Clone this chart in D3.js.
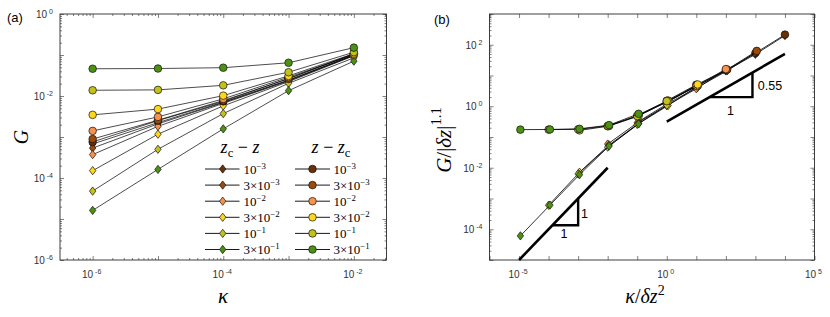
<!DOCTYPE html>
<html><head><meta charset="utf-8">
<script src="https://cdn.jsdelivr.net/npm/d3@7"></script>
<style>body{margin:0;background:#fff}svg{display:block}</style>
</head><body>
<svg id="c" width="830" height="317"></svg>
<script>
// ---------------- data ----------------
const kappa = [1e-6, 1e-5, 1e-4, 1e-3, 1e-2];
const deltaZ = [1e-3, 3e-3, 1e-2, 3e-2, 1e-1, 3e-1];
const deltaZMant = ["", "3×", "", "3×", "", "3×"];
const deltaZExp = ["−3", "−3", "−2", "−2", "−1", "−1"];
const seriesColors = ["#6a3006", "#9a4a0c", "#f7924a", "#ffd61a", "#c2c21a", "#4b9212"];
// G for z - zc (circles), one row per deltaZ, columns follow kappa
const gAbove = [
  [7.59e-4, 2.51e-3, 7.41e-3, 2.69e-2, 0.107],
  [8.91e-4, 2.57e-3, 7.76e-3, 2.63e-2, 0.106],
  [1.41e-3, 3.09e-3, 8.51e-3, 2.88e-2, 0.102],
  [3.47e-3, 4.79e-3, 1.02e-2, 3.09e-2, 0.108],
  [1.38e-2, 1.41e-2, 1.82e-2, 3.80e-2, 0.117],
  [4.62e-2, 4.68e-2, 4.90e-2, 6.46e-2, 0.151]
];
// G for zc - z (diamonds)
const gBelow = [
  [6.76e-4, 2.24e-3, 7.08e-3, 2.45e-2, 0.100],
  [5.37e-4, 2.09e-3, 6.92e-3, 2.40e-2, 0.099],
  [3.72e-4, 1.82e-3, 6.61e-3, 2.34e-2, 0.0977],
  [1.51e-4, 1.17e-3, 5.75e-3, 2.24e-2, 0.0955],
  [4.79e-5, 5.01e-4, 3.72e-3, 2.04e-2, 0.0851],
  [1.62e-5, 1.62e-4, 1.58e-3, 1.35e-2, 0.0708]
];
// scaling exponents of panel (b)
const xScalingExp = 2;     // kappa / dz^2
const yScalingExp = 1.1;   // G / |dz|^1.1
// guide lines in panel (b)
const guideSlope1 = [[1e-5, 1e-5], [1e-2, 1e-2]];
const triSlope1 = [[1.35e-4, 1.35e-4], [1e-3, 1.35e-4], [1e-3, 1e-3]];
const guideSlope055 = [[1, 0.316], [1e4, 50.1]];
const triSlope055 = [[28.2, 1.984], [794, 1.984], [794, 12.45]];

// tick labels (exponents of 10)
const leftXLabels = [-6, -4, -2];
const leftYLabels = [-6, -4, -2, 0];
const rightXLabels = [-5, 0, 5];
const rightYLabels = [-4, -2, 0, 2];

// ---------------- drawing ----------------
const svg = d3.select("#c");
const SANS = "'Liberation Sans', Arial, Helvetica, sans-serif";
const SERIF = "'Liberation Serif', 'DejaVu Serif', 'Times New Roman', serif";
const AX = "#2b2b2b";

function mathText(parent, x, y, parts, opts = {}) {
  const fs = opts.size || 14;
  const t = parent.append("text").attr("x", x).attr("y", y)
    .attr("font-family", opts.family || SERIF).attr("font-size", fs)
    .attr("fill", opts.fill || "#000")
    .attr("text-anchor", opts.anchor || "start");
  if (opts.transform) t.attr("transform", opts.transform);
  let shift = 0;
  parts.forEach(p => {
    const s = t.append("tspan").text(p.t);
    let target = 0, size = fs;
    if (p.sup) { target = -fs * (opts.supRaise || 0.42); size = fs * (opts.supScale || 0.7); }
    if (p.sub) { target = fs * 0.22; size = fs * 0.7; }
    s.attr("dy", target - shift).attr("font-size", size);
    shift = target;
    if (p.it) s.attr("font-style", "italic");
  });
  return t;
}

function minorTicks(domain) {
  const out = [];
  const lo = Math.floor(Math.log10(domain[0])), hi = Math.ceil(Math.log10(domain[1]));
  for (let k = lo; k <= hi; k++) for (let m = 2; m <= 9; m++) {
    const v = m * Math.pow(10, k);
    if (v > domain[0] && v < domain[1]) out.push(v);
  }
  return out;
}
function majorTicks(domain) {
  const out = [];
  for (let k = Math.ceil(Math.log10(domain[0]) - 1e-9); k <= Math.floor(Math.log10(domain[1]) + 1e-9); k++) out.push(Math.pow(10, k));
  return out;
}

function frame(x, y, opts) {
  const [x0, x1] = x.range(), [y0, y1] = y.range();
  const g = svg.append("g");
  const xd = x.domain(), yd = y.domain();
  const addAxis = (axis, tr) => {
    const a = g.append("g").attr("transform", tr).call(axis);
    a.select(".domain").remove();
    a.selectAll("line").attr("stroke", AX).attr("stroke-width", 0.6);
  };
  const xm = majorTicks(xd), ym = majorTicks(yd);
  addAxis(d3.axisBottom(x).tickValues(xm).tickSize(-4).tickFormat(""), `translate(0,${y0})`);
  addAxis(d3.axisTop(x).tickValues(xm).tickSize(-4).tickFormat(""), `translate(0,${y1})`);
  addAxis(d3.axisLeft(y).tickValues(ym).tickSize(-4).tickFormat(""), `translate(${x0},0)`);
  addAxis(d3.axisRight(y).tickValues(ym).tickSize(-4).tickFormat(""), `translate(${x1},0)`);
  if (opts.xMinor) {
    const xn = minorTicks(xd);
    addAxis(d3.axisBottom(x).tickValues(xn).tickSize(-2).tickFormat(""), `translate(0,${y0})`);
    addAxis(d3.axisTop(x).tickValues(xn).tickSize(-2).tickFormat(""), `translate(0,${y1})`);
  }
  const yn = minorTicks(yd);
  addAxis(d3.axisLeft(y).tickValues(yn).tickSize(-2).tickFormat(""), `translate(${x0},0)`);
  addAxis(d3.axisRight(y).tickValues(yn).tickSize(-2).tickFormat(""), `translate(${x1},0)`);
  g.append("rect").attr("x", x0).attr("y", y1).attr("width", x1 - x0).attr("height", y0 - y1)
    .attr("fill", "none").attr("stroke", AX).attr("stroke-width", 0.9);
  opts.xLabels.forEach(e => {
    mathText(g, x(Math.pow(10, e)) - 1, y0 + 18, [{t: "10"}, {t: " " + e, sup: true}],
      {family: SANS, size: 10, anchor: "middle", fill: "#333"});
  });
  opts.yLabels.forEach(e => {
    mathText(g, x0 - 7, y(Math.pow(10, e)) + 4, [{t: "10"}, {t: " " + e, sup: true}],
      {family: SANS, size: 10, anchor: "end", fill: "#333"});
  });
}

const diamond = (r) => `M0,${-r * 1.3}L${r},0L0,${r * 1.3}L${-r},0Z`;

function marker(g, p, color, shape) {
  if (shape === "circle") {
    g.append("circle").attr("cx", p[0]).attr("cy", p[1]).attr("r", 3.8)
      .attr("fill", color).attr("stroke", "#111").attr("stroke-width", 0.7);
  } else if (shape === "diamond") {
    g.append("path").attr("d", diamond(3.2)).attr("transform", `translate(${p[0]},${p[1]})`)
      .attr("fill", color).attr("stroke", "#111").attr("stroke-width", 0.7);
  }
}
function drawSeries(g, pts, color, shape, lw) {
  const line = d3.line().x(d => d[0]).y(d => d[1]);
  g.append("path").attr("d", line(pts)).attr("fill", "none").attr("stroke", "#000").attr("stroke-width", lw);
  pts.forEach(p => marker(g, p, color, shape));
}

// ---------- panel (a) ----------
const xL = d3.scaleLog().domain([Math.pow(10, -6.5), Math.pow(10, -1.5)]).range([60, 386.5]);
const yL = d3.scaleLog().domain([1e-6, 1]).range([260, 14]);
frame(xL, yL, {xMinor: true, xLabels: leftXLabels, yLabels: leftYLabels});
const gA = svg.append("g");
deltaZ.forEach((d, i) => drawSeries(gA, kappa.map((k, j) => [xL(k), yL(gBelow[i][j])]), seriesColors[i], "diamond", 0.7));
deltaZ.forEach((d, i) => drawSeries(gA, kappa.map((k, j) => [xL(k), yL(gAbove[i][j])]), seriesColors[i], "circle", 0.7));

svg.append("text").attr("x", 7).attr("y", 22).attr("font-family", SANS).attr("font-size", 13).text("(a)");
mathText(svg, 223, 303, [{t: "κ", it: true}], {size: 21, anchor: "middle"});
mathText(svg, 0, 0, [{t: "G", it: true}], {size: 20, anchor: "middle", transform: "translate(28,137) rotate(-90)"});

// legend
const legRows = deltaZ.map((d, i) => 169 + i * 16.1);
mathText(svg, 240, 153, [{t: "z", it: true}, {t: "c", sub: true}, {t: " − "}, {t: "z", it: true}], {size: 18, anchor: "middle"});
mathText(svg, 331, 153, [{t: "z", it: true}, {t: " − "}, {t: "z", it: true}, {t: "c", sub: true}], {size: 18, anchor: "middle"});
const gLeg = svg.append("g");
deltaZ.forEach((d, i) => {
  const yy = legRows[i];
  drawSeries(gLeg, [[205, yy], [239.5, yy]], seriesColors[i], "none", 0.9);
  marker(gLeg, [222.7, yy], seriesColors[i], "diamond");
  drawSeries(gLeg, [[295, yy], [330, yy]], seriesColors[i], "none", 0.9);
  marker(gLeg, [312.5, yy], seriesColors[i], "circle");
  const parts = [{t: deltaZMant[i] + "10"}, {t: deltaZExp[i], sup: true}];
  mathText(gLeg, 243.5, yy + 4.5, parts, {size: 13, supRaise: 0.38, supScale: 0.68});
  mathText(gLeg, 333.5, yy + 4.5, parts, {size: 13, supRaise: 0.38, supScale: 0.68});
});

// ---------- panel (b) ----------
const xR = d3.scaleLog().domain([1e-6, 1e5]).range([489.5, 814.5]);
const yR = d3.scaleLog().domain([1e-5, 1e3]).range([260, 14]);
frame(xR, yR, {xMinor: false, xLabels: rightXLabels, yLabels: rightYLabels});
const gB = svg.append("g");
const lineR = d3.line().x(d => xR(d[0])).y(d => yR(d[1]));
gB.append("path").attr("d", lineR(guideSlope1)).attr("fill", "none").attr("stroke", "#000").attr("stroke-width", 2.6);
gB.append("path").attr("d", lineR(triSlope1)).attr("fill", "none").attr("stroke", "#000").attr("stroke-width", 2.4);
gB.append("path").attr("d", lineR(guideSlope055)).attr("fill", "none").attr("stroke", "#000").attr("stroke-width", 2.6);
gB.append("path").attr("d", lineR(triSlope055)).attr("fill", "none").attr("stroke", "#000").attr("stroke-width", 2.4);
const lab = (x, y, t) => svg.append("text").attr("x", x).attr("y", y).attr("font-family", SANS).attr("font-size", 12.5).attr("text-anchor", "middle").text(t);
lab(564, 238, "1"); lab(584.5, 218, "1"); lab(770, 89.5, "0.55"); lab(730.5, 114.5, "1");

deltaZ.forEach((d, i) => {
  const sx = Math.pow(d, xScalingExp), sy = Math.pow(d, yScalingExp);
  drawSeries(gB, kappa.map((k, j) => [xR(k / sx), yR(gBelow[i][j] / sy)]), seriesColors[i], "diamond", 0.8);
  drawSeries(gB, kappa.map((k, j) => [xR(k / sx), yR(gAbove[i][j] / sy)]), seriesColors[i], "circle", 0.8);
});

svg.append("text").attr("x", 434).attr("y", 24).attr("font-family", SANS).attr("font-size", 13).text("(b)");
mathText(svg, 645, 303, [{t: "κ", it: true}, {t: "/"}, {t: "δz", it: true}, {t: "2", sup: true}], {size: 20, anchor: "middle"});
mathText(svg, 0, 0, [{t: "G", it: true}, {t: "/|"}, {t: "δz", it: true}, {t: "|"}, {t: "1.1", sup: true}],
  {size: 21, anchor: "middle", supRaise: 0.5, transform: "translate(451,140) rotate(-90)"});
</script>
</body></html>
